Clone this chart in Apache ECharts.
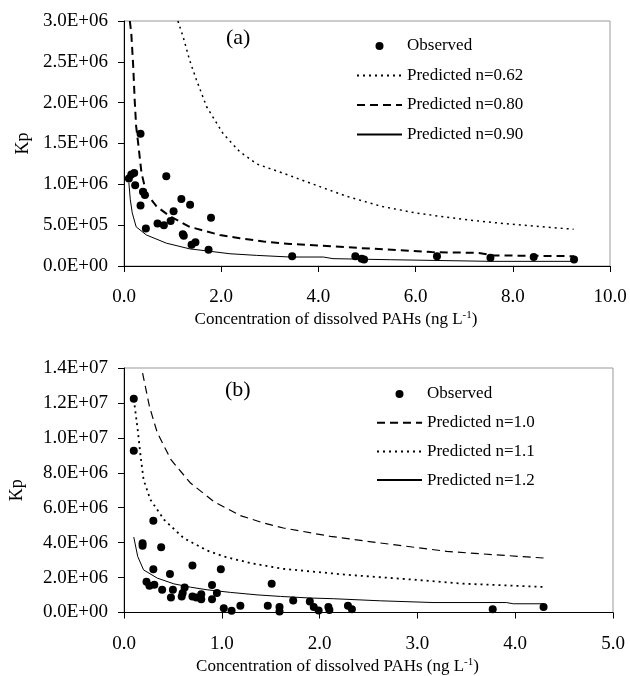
<!DOCTYPE html>
<html><head><meta charset="utf-8">
<script src="https://cdn.jsdelivr.net/npm/echarts@6/dist/echarts.min.js"></script>
<style>html,body{margin:0;padding:0;background:#fff}#c{width:630px;height:676px}</style>
</head><body><div id="c"></div>
<script>
// ---------- Panel (a) data ----------
const obsA = [[0.10,1.07e6],[0.15,1.12e6],[0.21,1.14e6],[0.23,0.99e6],[0.34,1.62e6],[0.34,0.74e6],[0.39,0.91e6],[0.43,0.87e6],[0.45,0.46e6],[0.69,0.52e6],[0.82,0.50e6],[0.87,1.10e6],[0.96,0.55e6],[1.02,0.67e6],[1.18,0.82e6],[1.21,0.39e6],[1.23,0.37e6],[1.36,0.75e6],[1.39,0.26e6],[1.47,0.29e6],[1.74,0.20e6],[1.79,0.59e6],[3.46,0.12e6],[4.76,0.12e6],[4.89,0.09e6],[4.94,0.08e6],[6.44,0.12e6],[7.54,0.10e6],[8.43,0.11e6],[9.26,0.08e6]];
const predA062 = [[1.11,3.0e6],[1.22,2.8e6],[1.35,2.52e6],[1.49,2.28e6],[1.70,1.95e6],[2.04,1.62e6],[2.38,1.40e6],[2.73,1.25e6],[3.35,1.12e6],[3.9,1.00e6],[4.6,0.85e6],[5.3,0.73e6],[6.0,0.65e6],[6.6,0.60e6],[7.3,0.55e6],[8.0,0.51e6],[9.25,0.45e6]];
const predA080 = [[0.12,3.0e6],[0.15,2.85e6],[0.19,2.44e6],[0.22,2.03e6],[0.25,1.71e6],[0.30,1.46e6],[0.36,1.14e6],[0.46,0.89e6],[0.67,0.73e6],[0.94,0.61e6],[1.35,0.48e6],[1.97,0.38e6],[2.38,0.34e6],[2.87,0.30e6],[3.42,0.27e6],[4.86,0.22e6],[6.33,0.17e6],[7.3,0.16e6],[7.6,0.13e6],[9.26,0.12e6]];
const predA090 = [[0.10,1.02e6],[0.13,0.81e6],[0.17,0.65e6],[0.25,0.48e6],[0.46,0.38e6],[0.87,0.28e6],[1.35,0.21e6],[1.77,0.18e6],[2.18,0.15e6],[2.73,0.13e6],[3.42,0.11e6],[4.1,0.11e6],[4.3,0.09e6],[5.48,0.077e6],[7.54,0.057e6],[9.26,0.057e6]];
// ---------- Panel (b) data ----------
const obsB = [[0.10,12.24e6],[0.10,9.26e6],[0.30,5.25e6],[0.19,3.97e6],[0.19,3.82e6],[0.38,3.74e6],[0.30,2.48e6],[0.47,2.20e6],[0.70,2.69e6],[0.99,2.48e6],[0.23,1.76e6],[0.26,1.53e6],[0.31,1.59e6],[0.39,1.30e6],[0.48,0.86e6],[0.50,1.30e6],[0.59,0.92e6],[0.60,1.11e6],[0.62,1.43e6],[0.70,0.92e6],[0.74,0.86e6],[0.79,0.76e6],[0.79,1.05e6],[0.90,1.57e6],[0.90,0.76e6],[0.95,1.11e6],[1.02,0.25e6],[1.10,0.10e6],[1.19,0.38e6],[1.47,0.38e6],[1.51,1.64e6],[1.59,0.31e6],[1.59,0.06e6],[1.73,0.69e6],[1.90,0.63e6],[1.94,0.31e6],[1.99,0.11e6],[2.09,0.31e6],[2.10,0.15e6],[2.29,0.38e6],[2.33,0.19e6],[3.77,0.19e6],[4.29,0.31e6]];
const predB10 = [[0.19,13.71e6],[0.26,11.8e6],[0.34,10.3e6],[0.48,8.75e6],[0.68,7.41e6],[0.92,6.35e6],[1.19,5.55e6],[1.43,5.12e6],[1.63,4.84e6],[2.11,4.36e6],[2.62,3.98e6],[3.30,3.50e6],[3.78,3.31e6],[4.29,3.12e6]];
const predB11 = [[0.10,12.2e6],[0.11,11.8e6],[0.14,10.47e6],[0.17,8.94e6],[0.20,7.60e6],[0.27,6.46e6],[0.41,5.31e6],[0.61,4.26e6],[0.85,3.55e6],[1.02,3.21e6],[1.29,2.83e6],[1.63,2.50e6],[2.28,2.16e6],[2.96,1.88e6],[3.47,1.65e6],[4.29,1.46e6]];
const predB12 = [[0.10,4.32e6],[0.14,3.21e6],[0.20,2.44e6],[0.34,1.97e6],[0.51,1.64e6],[0.68,1.45e6],[0.85,1.30e6],[1.09,1.15e6],[1.36,1.01e6],[1.60,0.92e6],[1.90,0.83e6],[2.14,0.79e6],[2.62,0.67e6],[3.16,0.57e6],[3.91,0.57e6],[3.98,0.50e6],[4.29,0.50e6]];
// ---------- Tick labels ----------
const yTicksA = ['0.0E+00','5.0E+05','1.0E+06','1.5E+06','2.0E+06','2.5E+06','3.0E+06'];
const yTicksB = ['0.0E+00','2.0E+06','4.0E+06','6.0E+06','8.0E+06','1.0E+07','1.2E+07','1.4E+07'];
const xTicksA = ['0.0','2.0','4.0','6.0','8.0','10.0'];
const xTicksB = ['0.0','1.0','2.0','3.0','4.0','5.0'];
const legendA = ['Observed','Predicted n=0.62','Predicted n=0.80','Predicted n=0.90'];
const legendB = ['Observed','Predicted n=1.0','Predicted n=1.1','Predicted n=1.2'];

const FF = '"Liberation Serif","Times New Roman",serif';
const xName = 'Concentration of dissolved PAHs (ng L{sup|-1})';

function xAxisCfg(gi, max, interval, ticks){
  return {
    gridIndex: gi, type:'value', min:0, max:max, interval:interval,
    name: xName, nameLocation:'middle', nameGap: 44,
    nameTextStyle:{fontFamily:FF,fontSize:17,color:'#000',padding:[0,62,0,0],
      rich:{sup:{fontFamily:FF,fontSize:11,color:'#000',padding:[0,0,9,0]}}},
    axisLine:{show:true,onZero:false,lineStyle:{color:'#000',width:1}},
    axisTick:{show:true,inside:false,length:6,lineStyle:{color:'#000'}},
    axisLabel:{fontFamily:FF,fontSize:19,color:'#000',margin:22,
      formatter:(v)=>ticks[Math.round(v/interval)]},
    splitLine:{show:false}
  };
}
function yAxisCfg(gi, max, interval, ticks, gap){
  return {
    gridIndex: gi, type:'value', min:0, max:max, interval:interval,
    name:'Kp', nameLocation:'middle', nameGap: gap, nameRotate:90,
    nameTextStyle:{fontFamily:FF,fontSize:18,color:'#000'},
    axisLine:{show:true,onZero:false,lineStyle:{color:'#000',width:1}},
    axisTick:{show:true,inside:false,length:6,lineStyle:{color:'#000'}},
    axisLabel:{fontFamily:FF,fontSize:19,color:'#000',margin:16,
      formatter:(v)=>ticks[Math.round(v/interval)]},
    splitLine:{show:false}
  };
}
function lineSeries(name, data, xi, width, dash){
  return {name:name,type:'line',xAxisIndex:xi,yAxisIndex:xi,data:data,
    showSymbol:false,symbol:'none',smooth:false,animation:false,silent:true,
    color:'#000',itemStyle:{color:'#000',opacity:0},
    lineStyle:{color:'#000',width:width,type:dash}};
}
function legendData(names){
  return names.map((n,i)=> i===0 ? {name:n} : {name:n, itemStyle:{opacity:0}});
}
const chart = echarts.init(document.getElementById('c'),null,{renderer:'canvas'});
chart.setOption({
  animation:false,
  backgroundColor:'#fff',
  grid:[
    {left:124,top:21,right:20,bottom:410,show:true,borderColor:'#999',borderWidth:1,backgroundColor:'transparent'},
    {left:123,top:368,right:17,bottom:63,show:true,borderColor:'#999',borderWidth:1,backgroundColor:'transparent'}
  ],
  xAxis:[xAxisCfg(0,10,2,xTicksA), xAxisCfg(1,5,1,xTicksB)],
  yAxis:[yAxisCfg(0,3e6,5e5,yTicksA,92), yAxisCfg(1,1.4e7,2e6,yTicksB,98)],
  legend:[
    {data:legendData(legendA),orient:'vertical',left:351,top:31,itemWidth:45,itemHeight:8,itemGap:9.5,
     selectedMode:false,textStyle:{fontFamily:FF,fontSize:17,color:'#000',lineHeight:20}},
    {data:legendData(legendB),orient:'vertical',left:371,top:379,itemWidth:45,itemHeight:8,itemGap:8.7,
     selectedMode:false,textStyle:{fontFamily:FF,fontSize:17,color:'#000',lineHeight:20}}
  ],
  graphic:[
    {type:'text',left:226,top:27,style:{text:'(a)',font:'22px '+FF,fill:'#000'}},
    {type:'text',left:225,top:379,style:{text:'(b)',font:'22px '+FF,fill:'#000'}}
  ],
  series:[
    {name:'Observed',type:'scatter',xAxisIndex:0,yAxisIndex:0,data:obsA,symbol:'circle',symbolSize:8,itemStyle:{color:'#000',opacity:1},z:5},
    lineSeries('Predicted n=0.62',predA062,0,1.5,[2,4]),
    lineSeries('Predicted n=0.80',predA080,0,2,[8,5]),
    lineSeries('Predicted n=0.90',predA090,0,1,'solid'),
    {name:'Observed',type:'scatter',xAxisIndex:1,yAxisIndex:1,data:obsB,symbol:'circle',symbolSize:8,itemStyle:{color:'#000',opacity:1},z:5},
    lineSeries('Predicted n=1.0',predB10,1,1.2,[8,5]),
    lineSeries('Predicted n=1.1',predB11,1,1.8,[2,4]),
    lineSeries('Predicted n=1.2',predB12,1,1,'solid')
  ]
});
</script>
</body></html>
